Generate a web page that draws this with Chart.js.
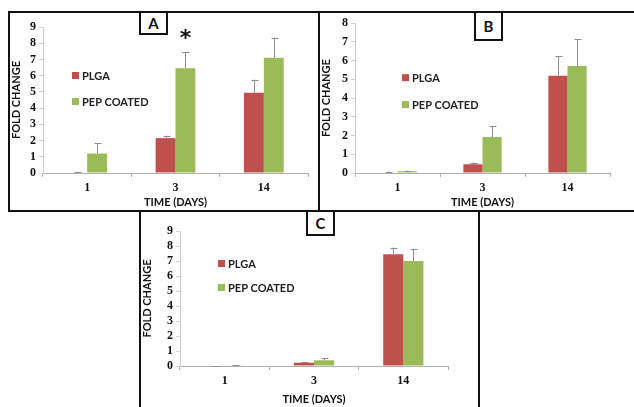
<!DOCTYPE html>
<html>
<head>
<meta charset="utf-8">
<script src="https://cdn.jsdelivr.net/npm/chart.js@4.4.1/dist/chart.umd.min.js"></script>
<style>
  body { margin: 0; background: #fff; width: 634px; height: 407px; overflow: hidden; position: relative; }
  .panel { position: absolute; border: 2px solid #111; box-sizing: border-box; background: #fff; }
  .tag { position: absolute; border: 2px solid #111; box-sizing: border-box; background: #fff;
         font: bold 15px Lato, sans-serif; text-align: center; color: #111; }
  canvas { position: absolute; }
</style>
</head>
<body>
<div class="panel" style="left:8px;top:11px;width:312px;height:201px;"></div>
<div class="panel" style="left:318px;top:11px;width:330px;height:201px;"></div>
<div class="panel" style="left:139px;top:210px;width:341px;height:210px;"></div>

<canvas id="chartA" width="306" height="196" style="left:10px;top:13px;"></canvas>
<canvas id="chartB" width="312" height="196" style="left:320px;top:13px;"></canvas>
<canvas id="chartC" width="336" height="194" style="left:141px;top:212px;"></canvas>

<div class="tag" style="left:139px;top:11px;width:29px;height:24px;line-height:20px;">A</div>
<div class="tag" style="left:474px;top:11px;width:29px;height:30px;line-height:26px;">B</div>
<div class="tag" style="left:306px;top:210px;width:29px;height:26px;line-height:22px;">C</div>

<script>
const days = ['1', '3', '14'];
const seriesNames = ['PLGA', 'PEP COATED'];
const seriesColors = ['#c0504d', '#9bbb59'];

// panel A
const plgaA = [0.03, 2.15, 4.95];
const plgaErrA = [0.02, 0.15, 0.8];
const pepA = [1.2, 6.45, 7.1];
const pepErrA = [0.65, 1.0, 1.25];
const starsA = [{ index: 1, value: 8.5 }];

// panel B
const plgaB = [0.03, 0.47, 5.2];
const plgaErrB = [0.01, 0.08, 1.05];
const pepB = [0.1, 1.92, 5.72];
const pepErrB = [0.03, 0.58, 1.43];

// panel C
const plgaC = [0.0, 0.22, 7.45];
const plgaErrC = [0.0, 0.05, 0.45];
const pepC = [0.02, 0.38, 7.0];
const pepErrC = [0.03, 0.14, 0.8];

const tickFont = { family: 'Liberation Serif', weight: 'bold', size: 12 };
const titleFont = { family: 'Lato', weight: 'bold', size: 11 };

// upper error bars with caps
const errorBars = {
    id: 'errorBars',
    afterDatasetsDraw(chart) {
        const ctx = chart.ctx;
        const y = chart.scales.y;
        ctx.save();
        ctx.strokeStyle = '#8c8c8c';
        ctx.lineWidth = 1;
        chart.data.datasets.forEach((ds, i) => {
            chart.getDatasetMeta(i).data.forEach((bar, j) => {
                const top = y.getPixelForValue(ds.data[j] + ds.errors[j]);
                const x = Math.round(bar.x) + 0.5;
                ctx.beginPath();
                ctx.moveTo(x, bar.y);
                ctx.lineTo(x, top);
                ctx.moveTo(x - 3, Math.round(top) + 0.5);
                ctx.lineTo(x + 4, Math.round(top) + 0.5);
                ctx.stroke();
            });
        });
        ctx.restore();
    }
};

// legend drawn inside the plot area
const innerLegend = {
    id: 'innerLegend',
    afterDraw(chart, args, opts) {
        const ctx = chart.ctx;
        const area = chart.chartArea;
        ctx.save();
        ctx.font = 'bold 11px Lato, sans-serif';
        ctx.textBaseline = 'middle';
        chart.data.datasets.forEach((ds, i) => {
            const x = area.left + opts.dx;
            const yy = area.top + opts.dy + i * opts.gap;
            ctx.fillStyle = ds.backgroundColor;
            ctx.fillRect(x, yy - 3, 7, 7);
            ctx.fillStyle = '#222';
            ctx.fillText(ds.label, x + 10, yy + 1);
        });
        ctx.restore();
    }
};

// significance markers
const stars = {
    id: 'stars',
    afterDraw(chart, args, opts) {
        if (!opts.marks) return;
        const ctx = chart.ctx;
        const meta = chart.getDatasetMeta(1);
        ctx.save();
        ctx.font = 'bold 22px "DejaVu Sans", sans-serif';
        ctx.textAlign = 'center';
        ctx.textBaseline = 'middle';
        ctx.fillStyle = '#111';
        opts.marks.forEach(m => {
            const x = meta.data[m.index].x;
            const yy = chart.scales.y.getPixelForValue(m.value);
            ctx.fillText('*', x, yy + 4);
        });
        ctx.restore();
    }
};

function makeChart(id, plga, plgaErr, pep, pepErr, yMax, geo, legendPos, marks) {
    new Chart(document.getElementById(id), {
        type: 'bar',
        data: {
            labels: days,
            datasets: [
                { label: seriesNames[0], data: plga, errors: plgaErr, backgroundColor: seriesColors[0] },
                { label: seriesNames[1], data: pep, errors: pepErr, backgroundColor: seriesColors[1] }
            ]
        },
        options: {
            responsive: false,
            devicePixelRatio: 1,
            animation: false,
            datasets: { bar: { barPercentage: 1, categoryPercentage: 0.45 } },
            layout: { padding: { top: geo.top, right: geo.right, left: 0, bottom: 0 } },
            plugins: {
                legend: { display: false },
                tooltip: { enabled: false },
                innerLegend: legendPos,
                stars: { marks: marks }
            },
            scales: {
                x: {
                    grid: { display: true, drawOnChartArea: false, tickLength: 4, color: '#b0b0b0' },
                    border: { color: '#b0b0b0' },
                    ticks: { font: tickFont, color: '#111', padding: 4 },
                    title: { display: true, text: 'TIME (DAYS)', font: titleFont, color: '#111', padding: { top: 0, bottom: 0 } },
                    afterFit: a => { a.height = geo.xh; }
                },
                y: {
                    min: 0, max: yMax,
                    grid: { display: true, drawOnChartArea: false, tickLength: 4, color: '#d0d0d0' },
                    border: { color: '#d0d0d0' },
                    ticks: { stepSize: 1, autoSkip: false, font: tickFont, color: '#111', padding: 3 },
                    title: { display: true, text: 'FOLD CHANGE', font: titleFont, color: '#111', padding: { top: 0, bottom: 0 } },
                    afterFit: a => { a.width = geo.yw; }
                }
            }
        },
        plugins: [errorBars, innerLegend, stars]
    });
}

makeChart('chartA', plgaA, plgaErrA, pepA, pepErrA, 9,
    { top: 14, right: 8, xh: 36, yw: 33 }, { dx: 29, dy: 48, gap: 26 }, starsA);
makeChart('chartB', plgaB, plgaErrB, pepB, pepErrB, 8,
    { top: 8, right: 22, xh: 36, yw: 35 }, { dx: 47, dy: 54, gap: 27 }, null);
makeChart('chartC', plgaC, plgaErrC, pepC, pepErrC, 9,
    { top: 19, right: 29, xh: 40, yw: 39 }, { dx: 38, dy: 32, gap: 24 }, null);
</script>
</body>
</html>
